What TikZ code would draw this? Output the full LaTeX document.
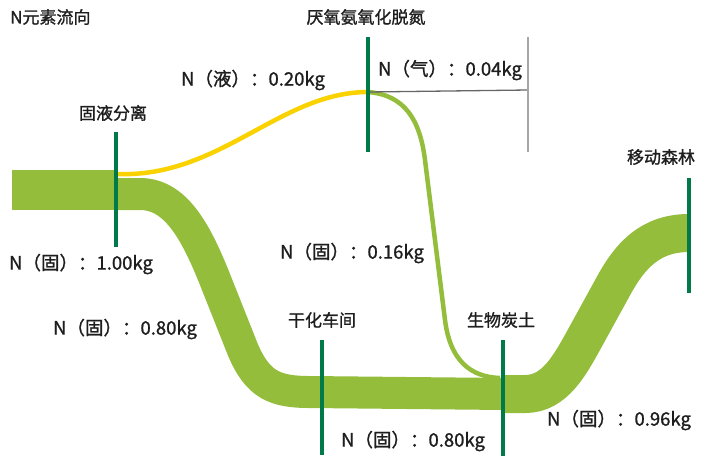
\documentclass[tikz,border=0pt]{standalone}
\usepackage{fontspec}
\setmainfont{Noto Sans CJK SC}[FakeBold=1.2]
\definecolor{bandgreen}{RGB}{148,189,60}
\definecolor{bargreen}{RGB}{0,122,72}
\definecolor{flowyellow}{RGB}{250,210,0}
\definecolor{txt}{RGB}{30,30,30}
\tikzset{
  lbl/.style={font=\fontsize{17}{17}\selectfont, text=txt, inner sep=0pt},
  val/.style={font=\fontsize{18.5}{18.5}\selectfont, text=txt, inner sep=0pt},
  stationbar/.style={draw=bargreen, line width=4pt},
  bandflow/.style={draw=bandgreen},
  thinflow/.style={line width=4.5pt},
}
\begin{document}
\begin{tikzpicture}[x=1pt,y=-1pt]
\useasboundingbox (0,0) rectangle (711,456);
% station bars (ends)
\coordinate (b1t) at (116,132); \coordinate (b1b) at (116,247);
\coordinate (b2t) at (368,37);  \coordinate (b2b) at (368,152);
\coordinate (b3t) at (322,340); \coordinate (b3b) at (322,455);
\coordinate (b4t) at (503,340); \coordinate (b4b) at (503,456);
\coordinate (b5t) at (689,178); \coordinate (b5b) at (689,293);
% flow anchor points
\coordinate (s1) at (116,194);
\coordinate (s1y) at (117,174);
\coordinate (s2) at (368,92);
\coordinate (s4) at (503,394);
\coordinate (s4t) at (500,378);
\coordinate (s5) at (689,233);
\coordinate (g1) at (528,90);
\coordinate (g1t) at (528,37);
\coordinate (g1b) at (528,152);
% input band
\fill[bandgreen] (12,170) rectangle (118,210);
% main solid band to drying and biochar
\draw[bandflow, line width=32pt] (s1) -- (140,194) .. controls (175,194) and (195,230) .. (214,277) -- (243,350) .. controls (258,385) and (275,392) .. (310,392) -- ([xshift=2pt]s4);
% band to mobile forest
\draw[bandflow, line width=38pt] ([xshift=-2pt]s4) -- (525,394) .. controls (555,394) and (570,365) .. (586,336) -- (614,285) .. controls (630,256) and (650,233) .. (s5);
% liquid flow (yellow)
\draw[flowyellow, thinflow] (s1y) .. controls (220,178) and (280,92) .. (s2);
% returning solid flow (thin green)
\draw[bandgreen, thinflow] (s2) .. controls (405,95) and (420,120) .. (425,160) -- (445,320) .. controls (450,360) and (470,377) .. (s4t);
% gas branch (gray)
\draw[black!60, line width=1.3pt] (s2) -- (g1);
\draw[black!35, line width=1.3pt] (g1t) -- (g1b);
% bars
\draw[stationbar] (b1t) -- (b1b);
\draw[stationbar] (b2t) -- (b2b);
\draw[stationbar] (b3t) -- (b3b);
\draw[stationbar] (b4t) -- (b4b);
\draw[stationbar] (b5t) -- (b5b);
% labels
\node[lbl, anchor=west] (title) at (10,17) {N元素流向};
\node[lbl] (l2) at (366,17) {厌氧氨氧化脱氮};
\node[lbl] (l1) at (113,113) {固液分离};
\node[lbl] (l5) at (661,157) {移动森林};
\node[lbl] (l3) at (322,320) {干化车间};
\node[lbl] (l4) at (501,320) {生物炭土};
\node[val] (v1) at (253,80) {N（液）：0.20kg};
\node[val] (v2) at (450,70) {N（气）：0.04kg};
\node[val] (v3) at (81,264) {N（固）：1.00kg};
\node[val] (v4) at (352,253) {N（固）：0.16kg};
\node[val] (v5) at (125,329) {N（固）：0.80kg};
\node[val] (v6) at (413,441) {N（固）：0.80kg};
\node[val] (v7) at (619,420) {N（固）：0.96kg};
\end{tikzpicture}
\end{document}
